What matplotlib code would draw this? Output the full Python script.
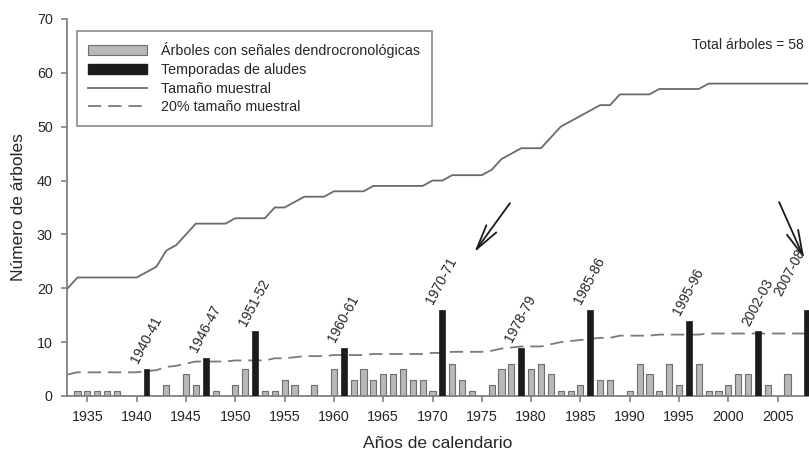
import matplotlib.pyplot as plt
from matplotlib.lines import Line2D
from matplotlib.patches import Patch

plt.rcParams["font.family"] = ["Liberation Sans", "DejaVu Sans"]

# Sample size (number of trees) per calendar year, 1933-2008
years = list(range(1933, 2009))
sample_size = [
    20,
    22, 22, 22, 22, 22, 22, 22,
    23, 24, 27, 28, 30, 32, 32, 32, 32,
    33, 33, 33, 33, 35, 35, 36, 37, 37, 37,
    38, 38, 38, 38, 39, 39, 39, 39, 39, 39,
    40, 40, 41, 41, 41, 41, 42, 44, 45, 46,
    46, 46, 48, 50, 51, 52, 53, 54, 54, 56,
    56, 56, 56, 57, 57, 57, 57, 57, 58, 58,
    58, 58, 58, 58, 58, 58, 58, 58, 58,
]
# 20% of the sample size
sample_20pct = [
    4.0,
    4.4, 4.4, 4.4, 4.4, 4.4, 4.4, 4.4,
    4.6, 4.8, 5.4, 5.6, 6.0, 6.4, 6.4, 6.4, 6.4,
    6.6, 6.6, 6.6, 6.6, 7.0, 7.0, 7.2, 7.4, 7.4, 7.4,
    7.6, 7.6, 7.6, 7.6, 7.8, 7.8, 7.8, 7.8, 7.8, 7.8,
    8.0, 8.0, 8.2, 8.2, 8.2, 8.2, 8.4, 8.8, 9.0, 9.2,
    9.2, 9.2, 9.6, 10.0, 10.2, 10.4, 10.6, 10.8, 10.8, 11.2,
    11.2, 11.2, 11.2, 11.4, 11.4, 11.4, 11.4, 11.4, 11.6, 11.6,
    11.6, 11.6, 11.6, 11.6, 11.6, 11.6, 11.6, 11.6, 11.6,
]

# Trees with dendrochronological signals
dendro_years = [
    1934, 1935, 1936, 1937, 1938, 1943, 1945, 1946, 1948,
    1950, 1951, 1953, 1954, 1955, 1956, 1958,
    1960, 1962, 1963, 1964, 1965, 1966, 1967, 1968, 1969, 1970,
    1972, 1973, 1974, 1976, 1977, 1978,
    1980, 1981, 1982, 1983, 1984, 1985, 1987, 1988,
    1990, 1991, 1992, 1993, 1994, 1995, 1997, 1998, 1999,
    2000, 2001, 2002, 2004, 2006,
]
dendro_counts = [
    1, 1, 1, 1, 1, 2, 4, 2, 1,
    2, 5, 1, 1, 3, 2, 2,
    5, 3, 5, 3, 4, 4, 5, 3, 3, 1,
    6, 3, 1, 2, 5, 6,
    5, 6, 4, 1, 1, 2, 3, 3,
    1, 6, 4, 1, 6, 2, 6, 1, 1,
    2, 4, 4, 2, 4,
]

# Avalanche seasons
avalanche_years = [1941, 1947, 1952, 1961, 1971, 1979, 1986, 1996, 2003, 2008]
avalanche_counts = [5, 7, 12, 9, 16, 9, 16, 14, 12, 16]
avalanche_labels = [
    "1940-41", "1946-47", "1951-52", "1960-61", "1970-71",
    "1978-79", "1985-86", "1995-96", "2002-03", "2007-08",
]

total_trees = 58

GRAY_FILL = "#b8b8b8"
GRAY_EDGE = "#6e6e6e"
DARK = "#1c1c1c"
LINE = "#6a6a6a"
SPINE = "#808080"
TEXT = "#262626"

fig = plt.figure(figsize=(8.09, 4.57), dpi=100)
ax = fig.add_axes([0.0824, 0.1335, 0.9176, 0.825])

ax.bar(dendro_years, dendro_counts, width=0.62, color=GRAY_FILL,
       edgecolor=GRAY_EDGE, linewidth=0.8, zorder=2)
ax.bar(avalanche_years, avalanche_counts, width=0.6, color=DARK,
       edgecolor=DARK, linewidth=0.5, zorder=3)
ax.plot(years, sample_size, color=LINE, linewidth=1.3, zorder=4)
ax.plot(years, sample_20pct, color="#7a7a7a", linewidth=1.3,
        dashes=(7.4, 3.8), zorder=1)

# season labels above each avalanche bar
for yr, n, lab in zip(avalanche_years, avalanche_counts, avalanche_labels):
    dx = -2.6 if lab == "2007-08" else -0.9
    dy = 2.4 if lab == "2007-08" else 0.9
    ax.text(yr + dx, n + dy, lab, rotation=62, rotation_mode="anchor",
            ha="left", va="baseline", fontsize=10, color=TEXT, zorder=5)

arrow_kw = dict(arrowstyle="->,head_length=0.9,head_width=0.22",
                color="#1a1a1a", lw=1.3, mutation_scale=20,
                shrinkA=0, shrinkB=0)
ax.annotate("", xy=(1974.25, 26.7), xytext=(1977.85, 35.8),
            arrowprops=arrow_kw)
ax.annotate("", xy=(2007.7, 25.5), xytext=(2005.15, 36.0),
            arrowprops=arrow_kw)

ax.text(2007.6, 65.2, f"Total árboles = {total_trees}", ha="right",
        va="center", fontsize=10.1, color=TEXT)

ax.set_xlim(1932.9, 2008.18)
ax.set_ylim(0, 70)
ax.set_xticks(range(1935, 2006, 5))
ax.set_yticks(range(0, 71, 10))
for side in ("top", "right"):
    ax.spines[side].set_visible(False)
for side in ("left", "bottom"):
    ax.spines[side].set_color(SPINE)
    ax.spines[side].set_linewidth(1.3)
ax.tick_params(direction="out", length=4, width=1.2, color=SPINE,
               labelsize=10.3, labelcolor=TEXT, pad=6)

ax.set_xlabel("Años de calendario", fontsize=12.5, color=TEXT, labelpad=9)
ax.set_ylabel("Número de árboles", fontsize=12.5, color=TEXT, labelpad=8)

handles = [
    Patch(facecolor=GRAY_FILL, edgecolor=GRAY_EDGE, linewidth=0.8),
    Patch(facecolor=DARK, edgecolor=DARK),
    Line2D([], [], color=LINE, linewidth=1.3),
    Line2D([], [], color="#7a7a7a", linewidth=1.3, dashes=(7.4, 3.8)),
]
labels = [
    "Árboles con señales dendrocronológicas",
    "Temporadas de aludes",
    "Tamaño muestral",
    "20% tamaño muestral",
]
leg = ax.legend(handles, labels, loc="upper left",
                bbox_to_anchor=(0.0139, 0.968), borderaxespad=0,
                fontsize=10.3, handlelength=4.1, handletextpad=1.0,
                labelspacing=0.32, borderpad=0.8, fancybox=False,
                framealpha=1, edgecolor="#8a8a8a")
leg.get_frame().set_linewidth(1.2)
for t in leg.get_texts():
    t.set_color(TEXT)

fig.savefig("out.png", dpi=100)
